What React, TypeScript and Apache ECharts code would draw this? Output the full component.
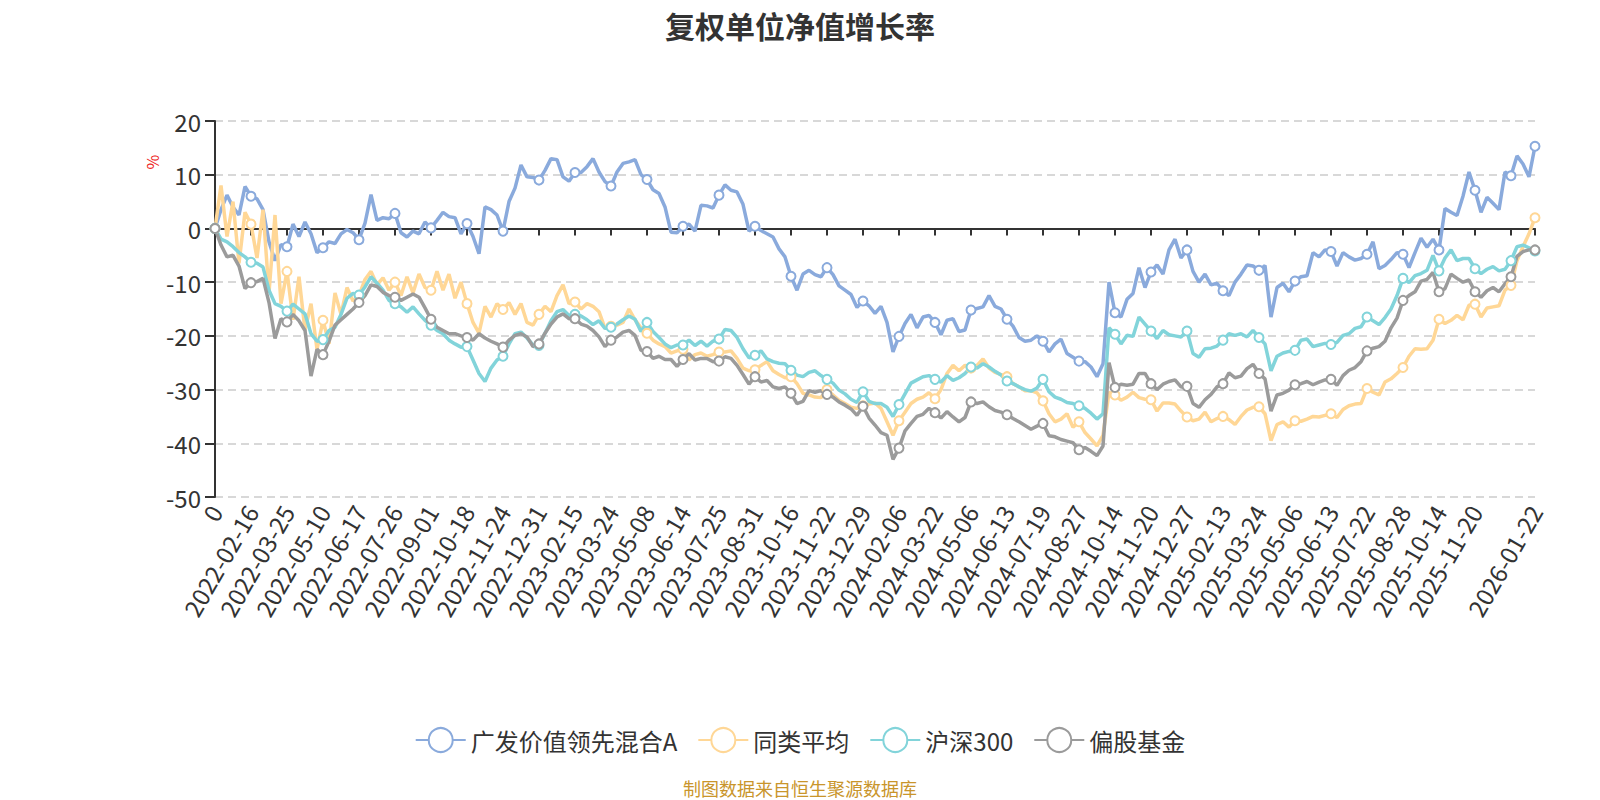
import React, { useEffect, useRef } from "react";
import * as echarts from "echarts";

const TITLE = "复权单位净值增长率";
const SERIES_NAMES = ["广发价值领先混合A", "同类平均", "沪深300", "偏股基金"];
const SERIES_COLORS = ["#8aaadc", "#ffd796", "#82d4da", "#9b9b9b"];
const SOURCE_NOTE = "制图数据来自恒生聚源数据库";
const Y_UNIT = "%";

const START_DATE = "2022-01-05";
const FIRST_LABEL = "0";
const TICK_DATES = [
  "2022-02-16", "2022-03-25", "2022-05-10", "2022-06-17", "2022-07-26", "2022-09-01",
  "2022-10-18", "2022-11-24", "2022-12-31", "2023-02-15", "2023-03-24", "2023-05-08",
  "2023-06-14", "2023-07-25", "2023-08-31", "2023-10-16", "2023-11-22", "2023-12-29",
  "2024-02-06", "2024-03-22", "2024-05-06", "2024-06-13", "2024-07-19", "2024-08-27",
  "2024-10-14", "2024-11-20", "2024-12-27", "2025-02-13", "2025-03-24", "2025-05-06",
  "2025-06-13", "2025-07-22", "2025-08-28", "2025-10-14", "2025-11-20",
];
const HIDDEN_TICK_DATE = "2025-12-26";
const END_DATE = "2026-01-22";
const POINTS_PER_TICK = 6;
const LAST_STEPS = 4;

const Y_MIN = -50;
const Y_MAX = 20;
const Y_STEP = 10;

// 广发价值领先混合A
const fundValues = [
  0, 3.5, 6.2, 4.0, 2.5, 7.8,
  6.0, 5.5, 3.5, -2.5, -6.0, -3.0,
  -3.4, 0.8, -1.5, 1.2, -1.0, -4.5,
  -3.6, -2.5, -2.8, -1.0, -0.2, -0.8,
  -2.1, 1.0, 6.3, 1.5, 2.0, 1.8,
  2.8, -0.8, -1.6, -0.5, -1.0, 1.2,
  0.1, 1.5, 3.0, 2.2, 2.0, -1.0,
  0.9, -1.5, -4.7, 4.0, 3.5, 2.5,
  -0.5, 5.0, 7.5, 11.8, 9.6, 9.5,
  9.0, 10.8, 13.0, 12.8, 9.6, 8.8,
  10.4, 10.4, 11.5, 13.0, 10.5, 8.7,
  7.9, 10.5, 12.1, 12.4, 12.8, 10.0,
  9.1, 7.2, 6.5, 4.0, -0.7, -0.8,
  0.4, 0.8, -0.5, 4.3, 4.2, 3.8,
  6.2, 8.1, 7.1, 6.8, 4.5, -0.5,
  0.4, -0.4, -1.0, -1.6, -3.8, -5.3,
  -8.9, -11.5, -8.5, -7.8, -8.6, -9.0,
  -7.3, -8.6, -10.7, -11.5, -12.3, -14.7,
  -13.5, -14.4, -15.8, -14.5, -17.5, -23.0,
  -20.1, -17.7, -16.0, -18.5, -16.5, -16.2,
  -17.5, -19.8, -17.1, -16.8, -19.2, -18.9,
  -15.2, -14.9, -14.6, -12.5, -14.5, -15.0,
  -16.9, -18.2, -20.3, -21.0, -20.8, -20.0,
  -21.0, -23.0, -21.5, -20.6, -23.3, -24.0,
  -24.7, -24.8, -25.8, -27.6, -25.2, -10.0,
  -15.7, -16.5, -13.2, -12.1, -7.3, -11.0,
  -8.1, -6.8, -8.5, -4.0, -2.0, -5.5,
  -4.0, -8.0, -10.0, -8.5, -10.5, -10.2,
  -11.6, -12.5, -10.0, -8.5, -6.8, -7.0,
  -7.8, -6.9, -16.5, -11.0, -10.2, -11.8,
  -9.8, -9.0, -8.8, -4.5, -5.3, -4.0,
  -4.3, -7.0, -4.5, -5.3, -5.9, -5.6,
  -4.8, -2.5, -7.5, -6.9, -5.8, -4.5,
  -4.8, -7.3, -4.5, -1.8, -3.5, -2.0,
  -4.0, 3.7, 3.0, 2.4, 6.0, 10.5,
  7.1, 3.0, 5.8, 4.7, 3.5, 10.5,
  9.8, 13.5, 12.0, 9.6, 15.3,
];

// 同类平均
const peerValues = [
  0, 8.0, -1.5, 5.0, -6.5, 3.0,
  0.8, -5.5, 3.5, -12.0, 2.5, -14.0,
  -8.0, -17.0, -9.0, -19.0, -14.0, -22.5,
  -17.1, -21.5, -12.0, -16.0, -11.0, -13.5,
  -12.5, -9.5, -8.0, -10.5, -9.2, -11.5,
  -10.0, -12.5, -9.0, -12.0, -8.5, -11.0,
  -11.5, -8.0, -11.5, -8.5, -13.0, -10.0,
  -14.0, -17.5, -19.5, -14.5, -16.5, -14.0,
  -15.1, -13.8, -16.0, -14.0, -17.5, -18.0,
  -16.0, -14.5, -15.5, -12.5, -10.5, -14.0,
  -13.7, -15.0, -14.0, -14.5, -15.5, -18.6,
  -18.2, -18.0, -17.5, -15.0, -17.0, -18.5,
  -19.5, -20.8, -21.5, -22.0, -23.2, -22.8,
  -22.5, -24.5, -23.5, -23.2, -23.8, -23.5,
  -23.0, -23.0, -22.8, -24.2, -26.0, -26.5,
  -26.3, -25.5, -24.8, -26.5, -27.2, -27.8,
  -27.6, -28.9, -30.7, -31.0, -31.4, -31.5,
  -30.0, -31.0, -32.0, -32.6, -33.3, -33.5,
  -33.0, -32.7, -32.5, -33.5, -36.0, -38.5,
  -35.8, -34.2, -32.6, -31.8, -31.4, -30.6,
  -31.7, -30.0, -27.0, -25.5, -26.5, -25.5,
  -26.0, -25.5, -24.3, -26.0, -26.8, -27.2,
  -27.6, -28.9, -29.5, -30.2, -30.2, -30.6,
  -32.1, -34.5, -36.0, -35.5, -34.5, -37.0,
  -36.0, -38.0, -39.2, -40.5, -38.5, -30.5,
  -31.0, -32.0, -31.4, -30.5, -31.5, -31.8,
  -31.9, -34.0, -32.5, -32.5, -32.7, -34.0,
  -35.1, -35.8, -35.5, -34.2, -36.0, -35.4,
  -35.0, -35.6, -36.5, -35.0, -33.8, -33.3,
  -33.2, -34.5, -39.5, -36.5, -36.0, -37.0,
  -35.8, -35.9, -35.5, -35.0, -35.1, -34.8,
  -34.5, -35.2, -33.7, -33.0, -32.7, -32.6,
  -29.8, -30.5, -31.0, -28.6, -28.0, -27.0,
  -25.9, -23.8, -22.4, -22.5, -22.4, -20.8,
  -16.9, -17.7, -17.1, -16.2, -17.0, -14.3,
  -14.1, -16.5, -14.8, -14.6, -14.4, -11.5,
  -10.6, -6.0, -3.4, -1.0, 2.0,
];

// 沪深300
const csi300Values = [
  0, -2.0, -2.5, -3.4, -4.5, -5.3,
  -6.3, -6.5, -7.2, -11.5, -14.0, -14.5,
  -15.4, -14.1, -15.0, -15.9, -19.6, -21.0,
  -20.7, -19.0, -18.4, -16.0, -13.0, -12.1,
  -12.4, -10.9, -9.0, -10.2, -11.5, -13.4,
  -14.0, -14.6, -15.6, -14.6, -15.9, -17.1,
  -18.0, -19.0, -19.6, -20.8, -21.5, -22.1,
  -22.0, -24.5, -27.0, -28.5, -26.0, -24.5,
  -23.8, -21.5, -19.6, -19.3, -20.4, -21.7,
  -21.8, -19.5, -17.2, -15.5, -15.1, -16.2,
  -16.0, -16.3, -17.0, -17.9, -17.2, -18.6,
  -18.4, -17.8, -17.0, -16.3, -16.9, -19.2,
  -17.5, -19.2, -20.3, -21.5, -22.2, -21.7,
  -21.7, -20.8, -21.8, -21.0, -21.9, -21.0,
  -20.6, -18.8, -19.0, -20.3, -22.4, -24.1,
  -23.6, -22.8, -24.3, -24.8, -25.1, -25.2,
  -26.4, -27.3, -27.6, -26.8, -26.5, -27.4,
  -28.1, -28.8, -30.1, -30.8, -31.8, -32.4,
  -30.4, -32.2, -32.6, -32.6, -33.3, -35.0,
  -32.8, -30.8, -28.8, -28.2, -27.6, -27.4,
  -28.1, -28.6, -27.4, -28.3, -27.8, -27.0,
  -25.8, -26.0, -25.2, -25.8, -26.6, -27.3,
  -28.4, -28.9, -29.5, -30.0, -30.3, -29.7,
  -28.1, -30.4, -31.4, -31.8, -32.4, -32.6,
  -33.0, -33.5, -34.4, -35.5, -34.5, -18.5,
  -19.7, -21.5, -19.9, -20.1, -16.5, -17.8,
  -19.1, -20.5, -19.0, -19.8, -20.0, -20.2,
  -19.1, -23.3, -24.0, -22.4, -22.3, -21.9,
  -20.8, -19.6, -19.9, -19.6, -20.2, -19.0,
  -20.3, -21.5, -26.5, -23.8, -23.2, -22.9,
  -22.7, -20.8, -20.6, -22.0, -21.7, -21.4,
  -21.6, -21.2, -19.9, -19.6, -18.6, -18.3,
  -16.5, -17.2, -17.9, -16.6, -15.0, -12.5,
  -9.3, -10.1, -8.8, -8.4, -7.8, -5.0,
  -7.9, -5.5, -4.0, -6.0, -5.6, -5.6,
  -7.5, -8.4, -7.6, -7.1, -7.9, -7.6,
  -6.0, -3.4, -3.1, -3.6, -4.2,
];

// 偏股基金
const equityFundValues = [
  0, -3.1, -5.3, -5.0, -7.0, -11.2,
  -10.1, -9.9, -9.3, -13.8, -20.5, -16.8,
  -17.4, -16.0, -17.2, -19.0, -27.5, -22.5,
  -23.5, -21.0, -18.0, -17.0, -16.0, -15.0,
  -13.8, -12.5, -10.5, -10.8, -11.9, -12.5,
  -12.8, -13.4, -12.8, -12.2, -12.8, -14.8,
  -16.9, -18.4, -19.0, -19.6, -19.6, -20.0,
  -20.3, -20.8, -19.6, -20.4, -21.0, -21.5,
  -22.1, -20.8, -19.9, -19.6, -20.2, -22.0,
  -21.5, -19.5, -17.8, -16.5, -15.9, -16.8,
  -16.8, -17.8, -18.2, -19.0, -20.2, -22.0,
  -20.8, -20.2, -19.3, -19.0, -19.9, -22.7,
  -22.9, -24.2, -23.8, -24.4, -24.4, -25.7,
  -24.4, -23.3, -24.5, -24.2, -24.2, -24.8,
  -24.7, -23.9, -24.2, -25.5, -27.2, -29.0,
  -27.6, -28.6, -28.3, -29.5, -29.8, -29.5,
  -30.7, -32.6, -32.2, -30.2, -30.5, -30.2,
  -30.9, -31.4, -32.3, -32.9, -33.6, -34.8,
  -33.1, -35.3, -36.6, -38.0, -38.5, -43.0,
  -40.9, -37.7, -36.3, -35.0, -34.6, -33.5,
  -34.3, -35.3, -34.1, -35.1, -36.0, -35.2,
  -32.3, -32.6, -32.3, -33.2, -33.9, -34.2,
  -34.7, -35.4, -36.0, -36.7, -37.4, -36.8,
  -36.3, -38.6, -38.8, -39.3, -39.6, -39.9,
  -41.2, -40.8, -41.5, -42.3, -40.5, -25.0,
  -29.6, -29.0, -29.2, -29.0, -27.0, -27.0,
  -28.9, -30.0, -29.0, -28.5, -28.2, -29.5,
  -29.4, -32.6, -33.3, -31.9, -30.9, -29.5,
  -28.9, -26.9, -27.8, -27.5, -26.1, -25.3,
  -27.0, -28.0, -34.0, -31.0, -30.7, -30.1,
  -29.1, -28.9, -28.5, -29.1, -28.6, -28.2,
  -28.1, -29.2, -27.4, -26.4, -25.9, -24.8,
  -22.8, -22.3, -22.0, -21.0, -18.5, -16.7,
  -13.4, -12.5, -11.8, -9.8, -9.5, -8.2,
  -11.8, -11.2, -8.5, -9.3, -10.0, -9.6,
  -11.8, -12.8, -11.6, -11.0, -11.8, -10.3,
  -9.0, -5.2, -4.3, -4.0, -4.0,
];

const SERIES_VALUES = [fundValues, peerValues, csi300Values, equityFundValues];

function buildCategories(): string[] {
  const anchors = [START_DATE, ...TICK_DATES, HIDDEN_TICK_DATE, END_DATE];
  const out: string[] = [];
  const DAY = 86400000;
  for (let k = 0; k < anchors.length - 1; k++) {
    const steps = k < anchors.length - 2 ? POINTS_PER_TICK : LAST_STEPS;
    const a = Date.parse(anchors[k] + "T00:00:00Z");
    const b = Date.parse(anchors[k + 1] + "T00:00:00Z");
    const days = (b - a) / DAY;
    for (let j = 0; j < steps; j++) {
      if (j === 0) out.push(k === 0 ? FIRST_LABEL : anchors[k]);
      else out.push(new Date(a + Math.round((days * j) / steps) * DAY).toISOString().slice(0, 10));
    }
  }
  out.push(END_DATE);
  return out;
}

const FONT = "'Noto Sans CJK SC', 'Noto Sans', sans-serif";

export default function App() {
  const ref = useRef<HTMLDivElement>(null);

  useEffect(() => {
    if (!ref.current) return;
    const chart = echarts.init(ref.current, null, { renderer: "svg" });
    const categories = buildCategories();
    const lastIndex = categories.length - 1;
    const showAt = (index: number) => index % POINTS_PER_TICK === 0 || index === lastIndex;

    const option: any = {
      animation: false,
      backgroundColor: "#ffffff",
      textStyle: { fontFamily: FONT },
      title: {
        text: TITLE,
        left: "center",
        top: 5,
        textStyle: { fontSize: 30, fontWeight: "bold", color: "#333333", fontFamily: FONT },
      },
      legend: {
        data: SERIES_NAMES,
        left: "center",
        top: 722,
        itemWidth: 50,
        itemHeight: 30,
        itemGap: 20,
        textStyle: { fontSize: 24, color: "#333333", fontFamily: FONT },
      },
      grid: { left: 215, right: 65, top: 121, bottom: 303, containLabel: false },
      xAxis: [
        {
          type: "category",
          data: categories,
          boundaryGap: false,
          position: "bottom",
          axisLine: { show: false, onZero: false },
          axisTick: { show: false },
          splitLine: { show: false },
          axisLabel: {
            interval: (index: number) => showAt(index),
            rotate: 60,
            fontSize: 24,
            color: "#333333",
            margin: 10,
            fontFamily: FONT,
            formatter: (value: string) => (value === HIDDEN_TICK_DATE ? "" : value),
          },
        },
        {
          type: "category",
          data: categories,
          boundaryGap: false,
          position: "bottom",
          axisLine: { show: true, onZero: true, lineStyle: { color: "#333333", width: 2 } },
          axisTick: {
            show: true,
            interval: (index: number) => showAt(index),
            length: 7,
            lineStyle: { color: "#333333", width: 2 },
          },
          axisLabel: { show: false, interval: (index: number) => showAt(index) },
          splitLine: { show: false },
        },
      ],
      yAxis: {
        type: "value",
        min: Y_MIN,
        max: Y_MAX,
        interval: Y_STEP,
        axisLine: { show: true, lineStyle: { color: "#333333", width: 2 } },
        axisTick: { show: true, length: 10, lineStyle: { color: "#333333", width: 2 } },
        axisLabel: { fontSize: 24, color: "#333333", margin: 14, fontFamily: FONT },
        splitLine: { show: true, lineStyle: { color: "#cccccc", type: [8, 5], width: 1.5 } },
      },
      graphic: [
        {
          type: "text",
          x: 152,
          y: 162,
          rotation: Math.PI / 2,
          style: {
            text: Y_UNIT,
            fontSize: 16,
            fill: "#ee2222",
            textAlign: "center",
            textVerticalAlign: "middle",
            fontFamily: FONT,
          },
        },
        {
          type: "text",
          left: "center",
          top: 779,
          style: { text: SOURCE_NOTE, fontSize: 18, fill: "#c9952b", fontFamily: FONT },
        },
      ],
      series: SERIES_NAMES.map((name, i) => ({
        name,
        type: "line",
        xAxisIndex: 0,
        yAxisIndex: 0,
        data: SERIES_VALUES[i],
        symbol: "emptyCircle",
        symbolSize: 9,
        showAllSymbol: "auto",
        lineStyle: { width: 3.5, color: SERIES_COLORS[i] },
        itemStyle: { color: SERIES_COLORS[i], borderWidth: 2 },
        emphasis: { disabled: true },
      })),
    };

    chart.setOption(option);
    return () => chart.dispose();
  }, []);

  return (
    <div
      ref={ref}
      style={{ position: "absolute", left: 0, top: 0, width: 1600, height: 800, background: "#fff" }}
    />
  );
}
